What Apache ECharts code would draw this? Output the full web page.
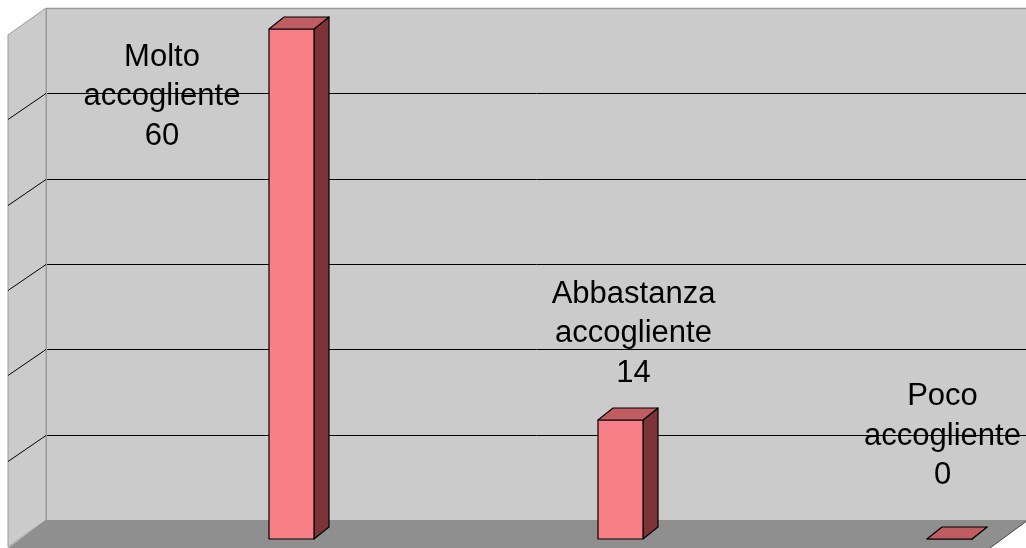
<!DOCTYPE html>
<html><head><meta charset="utf-8">
<script src="https://cdn.jsdelivr.net/npm/echarts@6/dist/echarts.min.js"></script>
<style>html,body{margin:0;padding:0;background:#fff}#c{width:1026px;height:548px}</style>
</head><body><div id="c"></div>
<script>
// ---- data ----
const categories = ['Molto accogliente', 'Abbastanza accogliente', 'Poco accogliente'];
const values = [60, 14, 0];
const axisMin = 0, axisMax = 60, axisInterval = 10;
const tickValues = [0, 10, 20, 30, 40, 50, 60];

// ---- layout config ----
const labelOffsets = [[-129.5, 67.5], [13, -86.5], [-7, -103]];
const WALL_DX = -38, WALL_DY = 27;   // front frame relative to back wall
const BAR_DX = 15, BAR_DY = -12;     // bar depth
const BAR_W_RATIO = 45 / 329;
const FONT = '"Liberation Sans", Arial, sans-serif';

function crisp(v) { return Math.round(v) + 0.5; }

function renderWalls(params, api) {
  const cs = params.coordSys;
  const v = api.value(1);
  const y = crisp(api.coord([0, v])[1]);
  const left = cs.x, right = cs.x + cs.width, top = cs.y, bottom = cs.y + cs.height;
  const ch = [];
  if (v === axisMin) {
    ch.push({type: 'polygon', z2: 0, shape: {points: [[left, top], [left, bottom], [left + WALL_DX, bottom + WALL_DY], [left + WALL_DX, top + WALL_DY]]},
      style: {fill: '#cbcbcb', stroke: '#9a9a9a', lineWidth: 1}});
    ch.push({type: 'polygon', z2: 1, shape: {points: [[left, bottom], [right, bottom], [right + WALL_DX, bottom + WALL_DY + 1], [left + WALL_DX, bottom + WALL_DY + 1]]},
      style: {fill: '#8f8f8f'}});
    ch.push({type: 'line', z2: 2, shape: {x1: right, y1: bottom, x2: right + WALL_DX, y2: bottom + WALL_DY + 1},
      style: {stroke: '#444', lineWidth: 1}});
  } else if (v === axisMax) {
    ch.push({type: 'line', z2: 3, shape: {x1: left, y1: y, x2: right, y2: y}, style: {stroke: '#9a9a9a', lineWidth: 1.5}});
    ch.push({type: 'line', z2: 3, shape: {x1: crisp(left), y1: top, x2: crisp(left), y2: bottom}, style: {stroke: '#9a9a9a', lineWidth: 1}});
  } else {
    ch.push({type: 'line', z2: 2, shape: {x1: left, y1: y, x2: right, y2: y}, style: {stroke: '#000', lineWidth: 1}});
    ch.push({type: 'line', z2: 2, shape: {x1: left, y1: y, x2: left + WALL_DX, y2: y + WALL_DY - 1}, style: {stroke: '#000', lineWidth: 1}});
  }
  return {type: 'group', children: ch};
}

function renderBar(params, api) {
  const i = params.dataIndex;
  const cat = api.value(0), v = api.value(1);
  const base = api.coord([cat, axisMin]);
  const tp = api.coord([cat, v]);
  const w = api.size([1, 0])[0] * BAR_W_RATIO;
  const x0 = base[0] - w / 2, x1 = base[0] + w / 2, yb = base[1], yt = tp[1];
  const edge = {stroke: '#000', lineWidth: 1.2, lineJoin: 'round'};
  const ch = [];
  ch.push({type: 'polygon', z2: 1, shape: {points: [[x1, yt], [x1 + BAR_DX, yt + BAR_DY], [x1 + BAR_DX, yb + BAR_DY], [x1, yb]]},
    style: Object.assign({fill: '#7d3439'}, edge)});
  ch.push({type: 'polygon', z2: 1, shape: {points: [[x0, yt], [x1, yt], [x1, yb], [x0, yb]]},
    style: Object.assign({fill: '#f77f86'}, edge)});
  ch.push({type: 'polygon', z2: 2, shape: {points: [[x0, yt], [x1, yt], [x1 + BAR_DX, yt + BAR_DY], [x0 + BAR_DX, yt + BAR_DY]]},
    style: Object.assign({fill: '#c05d63'}, edge)});
  const txt = categories[i].split(' ').join('\n') + '\n' + v;
  ch.push({type: 'text', z2: 5, x: base[0] + labelOffsets[i][0], y: yt + labelOffsets[i][1],
    style: {text: txt, fill: '#000', fontSize: 31, fontFamily: FONT, align: 'center', verticalAlign: 'middle', lineHeight: 39.5}});
  return {type: 'group', children: ch};
}

const chart = echarts.init(document.getElementById('c'), null, {renderer: 'canvas'});
chart.setOption({
  animation: false,
  backgroundColor: '#ffffff',
  grid: [
    {left: 127, top: 29, width: 987, height: 510, show: false, outerBoundsMode: 'none', containLabel: false},
    {left: 46, top: 8, width: 982, height: 512, show: true, backgroundColor: '#cbcbcb', borderWidth: 0, outerBoundsMode: 'none', containLabel: false}
  ],
  xAxis: [
    {gridIndex: 0, type: 'category', data: categories, show: false, boundaryGap: true},
    {gridIndex: 1, type: 'category', data: categories, show: false, boundaryGap: true}
  ],
  yAxis: [
    {gridIndex: 0, type: 'value', min: axisMin, max: axisMax, interval: axisInterval, show: false},
    {gridIndex: 1, type: 'value', min: axisMin, max: axisMax, interval: axisInterval, show: false}
  ],
  series: [
    {type: 'custom', name: 'walls', xAxisIndex: 1, yAxisIndex: 1, z: 1, clip: false, silent: true,
      data: tickValues.map(v => [0, v]), renderItem: renderWalls},
    {type: 'custom', name: 'bars', xAxisIndex: 0, yAxisIndex: 0, z: 2, clip: false,
      data: values.map((v, i) => [i, v]), renderItem: renderBar}
  ]
});
</script></body></html>
